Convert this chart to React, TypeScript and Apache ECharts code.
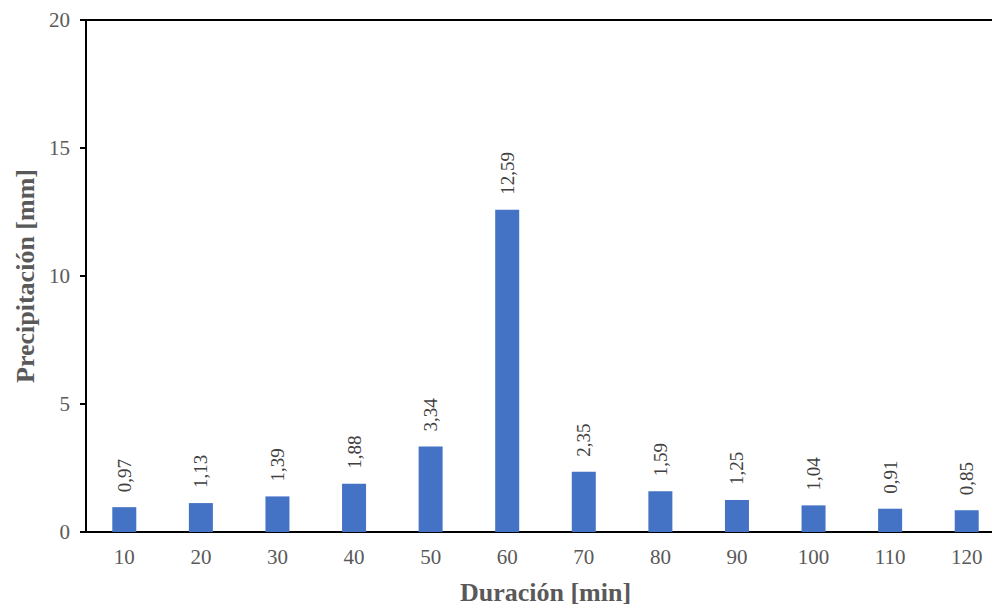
import React, { useEffect, useRef } from "react";
import * as echarts from "echarts";

// Duración de la lluvia (min) y precipitación por intervalo (mm)
const durations = ["10", "20", "30", "40", "50", "60", "70", "80", "90", "100", "110", "120"];
const precipitation = [0.97, 1.13, 1.39, 1.88, 3.34, 12.59, 2.35, 1.59, 1.25, 1.04, 0.91, 0.85];
const yTicks = { min: 0, max: 20, interval: 5 };

const FONT = "'Liberation Serif', 'Times New Roman', serif";
const GRAY = "#595959";

export default function App() {
  const ref = useRef<HTMLDivElement>(null);

  useEffect(() => {
    if (!ref.current) return;
    const chart = echarts.init(ref.current, null, { renderer: "svg" });
    chart.setOption({
      animation: false,
      backgroundColor: "#ffffff",
      // plot area runs past the right edge of the visible frame
      grid: { left: 86, top: 20, width: 919, height: 515, containLabel: false },
      xAxis: [
        {
          type: "category",
          data: durations,
          name: "Duración [min]",
          nameLocation: "middle",
          nameGap: 47,
          nameTextStyle: { fontFamily: FONT, fontSize: 26, fontWeight: "bold", color: GRAY },
          axisLine: { show: true, lineStyle: { color: "#000000", width: 2 } },
          axisTick: { show: false },
          axisLabel: { fontFamily: FONT, fontSize: 21, color: GRAY, margin: 14 },
        },
        {
          type: "category",
          data: durations,
          position: "top",
          axisLine: { show: true, lineStyle: { color: "#000000", width: 2 } },
          axisTick: { show: false },
          axisLabel: { show: false },
        },
      ],
      yAxis: {
        type: "value",
        min: yTicks.min,
        max: yTicks.max,
        interval: yTicks.interval,
        name: "Precipitación [mm]",
        nameLocation: "middle",
        nameGap: 47,
        nameTextStyle: { fontFamily: FONT, fontSize: 26, fontWeight: "bold", color: GRAY },
        axisLine: { show: true, lineStyle: { color: "#000000", width: 2 } },
        axisTick: { show: true, inside: false, length: 6, lineStyle: { color: "#000000", width: 2 } },
        axisLabel: { fontFamily: FONT, fontSize: 21, color: GRAY, margin: 16 },
        splitLine: { show: false },
      },
      series: [
        {
          type: "bar",
          data: precipitation,
          barWidth: 24,
          itemStyle: { color: "#4472C4" },
          label: {
            show: true,
            position: "top",
            rotate: 90,
            align: "left",
            verticalAlign: "middle",
            distance: 15,
            fontFamily: FONT,
            fontSize: 19,
            color: "#404040",
            formatter: (p: any) => Number(p.value).toFixed(2).replace(".", ","),
          },
        },
      ],
    });
    return () => chart.dispose();
  }, []);

  return (
    <div style={{ position: "fixed", left: 0, top: 0, width: 992, height: 610, overflow: "hidden", background: "#fff" }}>
      <div ref={ref} style={{ width: 1010, height: 610 }} />
    </div>
  );
}
